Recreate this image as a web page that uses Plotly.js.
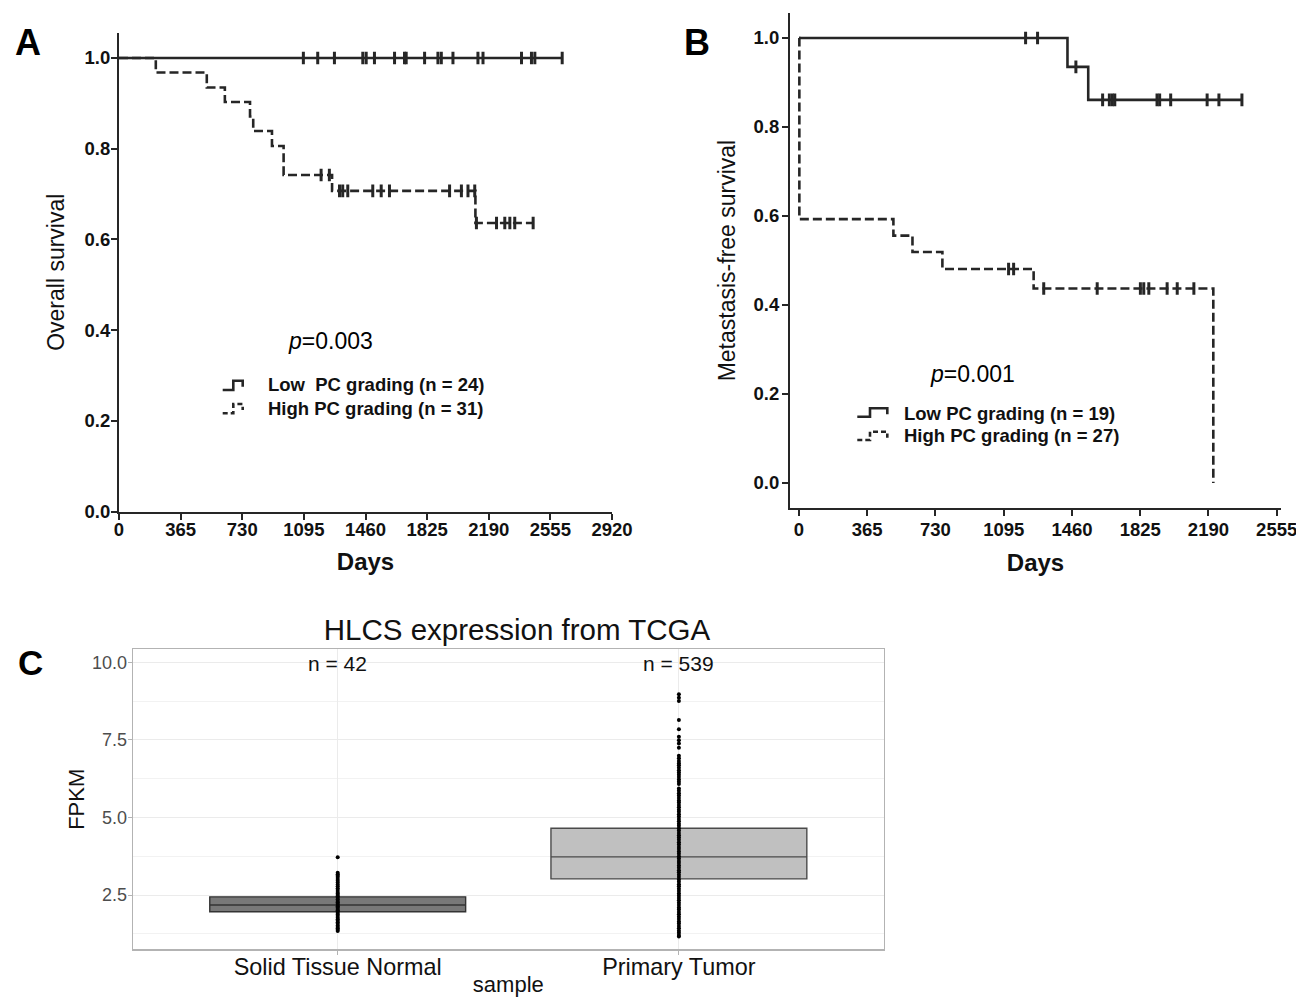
<!DOCTYPE html>
<html>
<head>
<meta charset="utf-8">
<script src="https://cdn.plot.ly/plotly-3.0.1.min.js"></script>
<style>html,body{margin:0;padding:0;background:#fff;}#chart{width:1296px;height:997px;}</style>
</head>
<body>
<div id="chart"></div>
<script>
// ---------------- DATA ----------------
const dayTicksA = [0, 365, 730, 1095, 1460, 1825, 2190, 2555, 2920];
const dayTicksB = [0, 365, 730, 1095, 1460, 1825, 2190, 2555];
const survTicks = [0.0, 0.2, 0.4, 0.6, 0.8, 1.0];

// Panel A - overall survival (Kaplan-Meier steps)
const aLowName = 'Low  PC grading (n = 24)';
const aLowTimes = [0, 2625];
const aLowSurv = [1.0, 1.0];
const aLowCensor = [1092, 1177, 1276, 1444, 1464, 1513, 1632, 1691, 1701, 1810, 1889, 1909, 1978, 2126, 2156, 2384, 2443, 2463, 2625];

const aHighName = 'High PC grading (n = 31)';
const aHighTimes = [0, 218, 520, 627, 776, 795, 906, 975, 1262, 2111, 2453];
const aHighSurv = [1.0, 0.968, 0.935, 0.903, 0.871, 0.839, 0.806, 0.742, 0.707, 0.636, 0.636];
const aHighCensor = [1197, 1246, 1306, 1325, 1355, 1503, 1553, 1602, 1958, 2028, 2067, 2107, 2117, 2236, 2285, 2315, 2344, 2453];
const aPValue = '0.003';

// Panel B - metastasis-free survival
const bLowName = 'Low PC grading (n = 19)';
const bLowTimes = [0, 1436, 1547, 2369];
const bLowSurv = [1.0, 0.935, 0.861, 0.861];
const bLowCensor = [1212, 1276, 1481, 1624, 1660, 1676, 1689, 1915, 1929, 1988, 2183, 2246, 2369];

const bHighName = 'High PC grading (n = 27)';
const bHighTimes = [0, 2, 505, 607, 767, 1255, 2216];
const bHighSurv = [1.0, 0.593, 0.556, 0.519, 0.481, 0.437, 0.0];
const bHighCensor = [1121, 1148, 1309, 1595, 1826, 1844, 1871, 1969, 2023, 2112];
const bPValue = '0.001';

// Panel C - HLCS expression from TCGA
const groups = ['Solid Tissue Normal', 'Primary Tumor'];
const groupN = [42, 539];
const boxQ1 = [1.96, 3.02];
const boxMedian = [2.18, 3.73];
const boxQ3 = [2.44, 4.65];
const normalFpkm = [3.72, 3.22, 3.17, 3.12, 3.08, 3.02, 2.96, 2.90, 2.84, 2.78, 2.72, 2.66, 2.60, 2.55, 2.50, 2.46, 2.41, 2.36, 2.31, 2.27, 2.22, 2.18, 2.14, 2.10, 2.05, 2.01, 1.97, 1.92, 1.87, 1.82, 1.77, 1.72, 1.67, 1.62, 1.57, 1.52, 1.47, 1.43, 1.38, 1.34];
const tumorFpkm = [8.97, 8.86, 8.75, 8.14, 7.84, 7.60, 7.49, 7.38, 7.25, 6.99, 6.91, 6.82, 6.75, 6.68, 6.60, 6.52, 6.45, 6.38, 6.30, 6.22, 6.15, 6.08,
  5.93, 5.86, 5.78, 5.71, 5.63, 5.55, 5.48, 5.40, 5.33, 5.25, 5.18, 5.10, 5.03, 4.95, 4.88, 4.80, 4.73, 4.65, 4.58, 4.50, 4.43, 4.35, 4.28, 4.20,
  4.13, 4.05, 3.98, 3.90, 3.83, 3.75, 3.68, 3.60, 3.53, 3.45, 3.38, 3.30, 3.23, 3.15, 3.08, 3.00, 2.93, 2.85, 2.78, 2.70, 2.63, 2.55, 2.48, 2.40,
  2.33, 2.25, 2.18, 2.10, 2.03, 1.95, 1.88, 1.80, 1.73, 1.65, 1.58, 1.50, 1.43, 1.35, 1.28, 1.21, 1.16];

// ---------------- HELPERS ----------------
const FONT = 'Liberation Sans, Arial, Helvetica, sans-serif';
const INK = '#262626';
const DASH = '9px,4px';
const W = 1296, H = 997;
const px = v => v / W;
const py = v => 1 - v / H;

function stepAt(times, surv, t) {
  let s = surv[0];
  for (let i = 0; i < times.length; i++) { if (times[i] <= t) s = surv[i]; }
  return s;
}

function kmTraces(times, surv, censor, name, dash, xa, ya) {
  return [
    { type: 'scatter', mode: 'lines', x: times, y: surv, name: name, xaxis: xa, yaxis: ya,
      line: { shape: 'hv', color: INK, width: 2.6, dash: dash }, hoverinfo: 'skip', showlegend: false },
    { type: 'scatter', mode: 'markers', x: censor, y: censor.map(t => stepAt(times, surv, t)), xaxis: xa, yaxis: ya,
      showlegend: false, hoverinfo: 'skip',
      marker: { symbol: 'line-ns-open', size: 9, color: INK, line: { color: INK, width: 3 } } }
  ];
}

const traces = [].concat(
  kmTraces(aLowTimes, aLowSurv, aLowCensor, aLowName, 'solid', 'x', 'y'),
  kmTraces(aHighTimes, aHighSurv, aHighCensor, aHighName, DASH, 'x', 'y'),
  kmTraces(bLowTimes, bLowSurv, bLowCensor, bLowName, 'solid', 'x2', 'y2'),
  kmTraces(bHighTimes, bHighSurv, bHighCensor, bHighName, DASH, 'x2', 'y2')
);

const boxFill = ['#787878', '#c0c0c0'];
const boxLine = ['#333333', '#4a4a4a'];
groups.forEach((g, i) => {
  traces.push({
    type: 'box', x: [g], q1: [boxQ1[i]], median: [boxMedian[i]], q3: [boxQ3[i]],
    lowerfence: [boxQ1[i]], upperfence: [boxQ3[i]], width: 0.75, whiskerwidth: 0,
    fillcolor: boxFill[i], line: { color: boxLine[i], width: 1.4 }, boxpoints: false,
    xaxis: 'x3', yaxis: 'y3', showlegend: false, hoverinfo: 'skip'
  });
});
[normalFpkm, tumorFpkm].forEach((vals, i) => {
  traces.push({
    type: 'scatter', mode: 'markers', x: vals.map(() => groups[i]), y: vals,
    marker: { color: '#000', size: 4 }, xaxis: 'x3', yaxis: 'y3', showlegend: false, hoverinfo: 'skip'
  });
});

// ---------------- LAYOUT ----------------
const tickFontKM = { family: FONT, size: 18.5, color: '#111', weight: 'bold' };
const kmX = (domain, range, tickvals, anchor, lblOff, titleOff) => ({
  domain: domain, range: range, anchor: anchor, tickmode: 'array', tickvals: tickvals, showgrid: false, zeroline: false,
  showline: true, linecolor: INK, linewidth: 2, ticks: 'outside', ticklen: 6, tickwidth: 2, tickcolor: INK,
  tickfont: tickFontKM, ticklabelstandoff: lblOff, ticklabeloverflow: 'allow',
  title: { text: '<b>Days</b>', font: { family: FONT, size: 24, color: '#111' }, standoff: titleOff },
  fixedrange: true
});
const kmY = (domain, range, anchor, title, lblOff, titleOff) => ({
  domain: domain, range: range, anchor: anchor, tickmode: 'array', tickvals: survTicks, tickformat: '.1f',
  showgrid: false, zeroline: false, showline: true, linecolor: INK, linewidth: 2,
  ticks: 'outside', ticklen: 6, tickwidth: 2, tickcolor: INK,
  tickfont: tickFontKM, ticklabelstandoff: lblOff,
  title: { text: title, font: { family: FONT, size: 23, color: '#111' }, standoff: titleOff },
  fixedrange: true
});

// legend keys (step-shaped, as in the original KM legends)
function legendKey(x0, xm, x1, yb, yt, dash) {
  return {
    type: 'path', xref: 'paper', yref: 'paper',
    path: 'M' + px(x0) + ',' + py(yb) + ' L' + px(xm) + ',' + py(yb) + ' L' + px(xm) + ',' + py(yt) +
          ' L' + px(x1) + ',' + py(yt) + ' L' + px(x1) + ',' + py(yt + 6),
    line: { color: INK, width: 2.6, dash: dash }
  };
}
function legendText(text, x, y) {
  return { text: '<b>' + text + '</b>', x: px(x), y: py(y), xref: 'paper', yref: 'paper', xanchor: 'left', yanchor: 'middle',
    showarrow: false, font: { family: FONT, size: 18.5, color: '#111' } };
}
function paperText(text, x, y, size) {
  return { text: text, x: px(x), y: py(y), xref: 'paper', yref: 'paper', xanchor: 'center', yanchor: 'middle',
    showarrow: false, font: { family: FONT, size: size, color: '#000' } };
}

const layout = {
  width: W, height: H, margin: { l: 0, r: 0, t: 0, b: 0 },
  paper_bgcolor: '#fff', plot_bgcolor: '#fff',
  font: { family: FONT, color: '#111' },
  showlegend: false,
  title: { text: 'HLCS expression from TCGA', x: px(517), y: py(630), xanchor: 'center', yanchor: 'middle',
    xref: 'paper', yref: 'paper', font: { family: FONT, size: 29.5, color: '#111' } },
  xaxis: kmX([px(119), px(612)], [0, 2920], dayTicksA, 'y', -6, 14),
  yaxis: kmY([py(511.5), py(33)], [0, 1.055], 'x', 'Overall survival', -3, 14),
  xaxis2: kmX([px(790), px(1281)], [-48, 2578], dayTicksB, 'y2', -2, 15),
  yaxis2: kmY([py(507.8), py(13.3)], [-0.0557, 1.0555], 'x2', 'Metastasis-free survival', -1, 12),
  xaxis3: {
    domain: [px(133), px(883.6)], anchor: 'y3', type: 'category', categoryorder: 'array', categoryarray: groups,
    range: [-0.6, 1.6], showgrid: true, gridcolor: '#ebebeb', gridwidth: 1, zeroline: false,
    showline: true, mirror: true, linecolor: '#b3b3b3', linewidth: 1.3,
    ticks: 'outside', ticklen: 4, tickcolor: '#b3b3b3', ticklabelstandoff: -8,
    tickfont: { family: FONT, size: 23.4, color: '#111' },
    title: { text: 'sample', font: { family: FONT, size: 22, color: '#111' }, standoff: 5 },
    fixedrange: true
  },
  yaxis3: {
    domain: [py(949.3), py(649.3)], anchor: 'x3', range: [0.75, 10.42], tick0: 0, dtick: 2.5, tickformat: '.1f',
    showgrid: true, gridcolor: '#ebebeb', gridwidth: 1, zeroline: false,
    minor: { tick0: 0, dtick: 1.25, showgrid: true, gridcolor: '#f2f2f2', gridwidth: 1 },
    showline: true, mirror: true, linecolor: '#b3b3b3', linewidth: 1.3,
    ticks: 'outside', ticklen: 4, tickcolor: '#b3b3b3', ticklabelstandoff: -3,
    tickfont: { family: FONT, size: 18, color: '#4d4d4d' },
    title: { text: 'FPKM', font: { family: FONT, size: 22, color: '#111' }, standoff: 1 },
    fixedrange: true
  },
  shapes: [
    legendKey(222.7, 233.3, 242.7, 390, 380.7, 'solid'),
    legendKey(222.7, 233.3, 242.7, 413.3, 404, '5px,3px'),
    legendKey(857.3, 870, 887.3, 416.7, 408.3, 'solid'),
    legendKey(857.3, 870, 887.3, 440, 431.7, '5px,3px')
  ],
  annotations: [
    paperText('<b>A</b>', 28, 42, 36),
    paperText('<b>B</b>', 697, 42, 36),
    paperText('<b>C</b>', 30, 662, 35),
    paperText('<i>p</i>=' + aPValue, 330, 341, 23),
    paperText('<i>p</i>=' + bPValue, 973, 374, 23),
    legendText(aLowName, 266, 385),
    legendText(aHighName, 266, 408),
    legendText(bLowName, 902, 413),
    legendText(bHighName, 902, 436),
    { text: 'n = ' + groupN[0], x: groups[0], y: 9.97, xref: 'x3', yref: 'y3', showarrow: false,
      xanchor: 'center', yanchor: 'middle', font: { family: FONT, size: 21, color: '#111' } },
    { text: 'n = ' + groupN[1], x: groups[1], y: 9.97, xref: 'x3', yref: 'y3', showarrow: false,
      xanchor: 'center', yanchor: 'middle', font: { family: FONT, size: 21, color: '#111' } }
  ]
};

Plotly.newPlot('chart', traces, layout, { displayModeBar: false, staticPlot: true });
</script>
</body>
</html>
